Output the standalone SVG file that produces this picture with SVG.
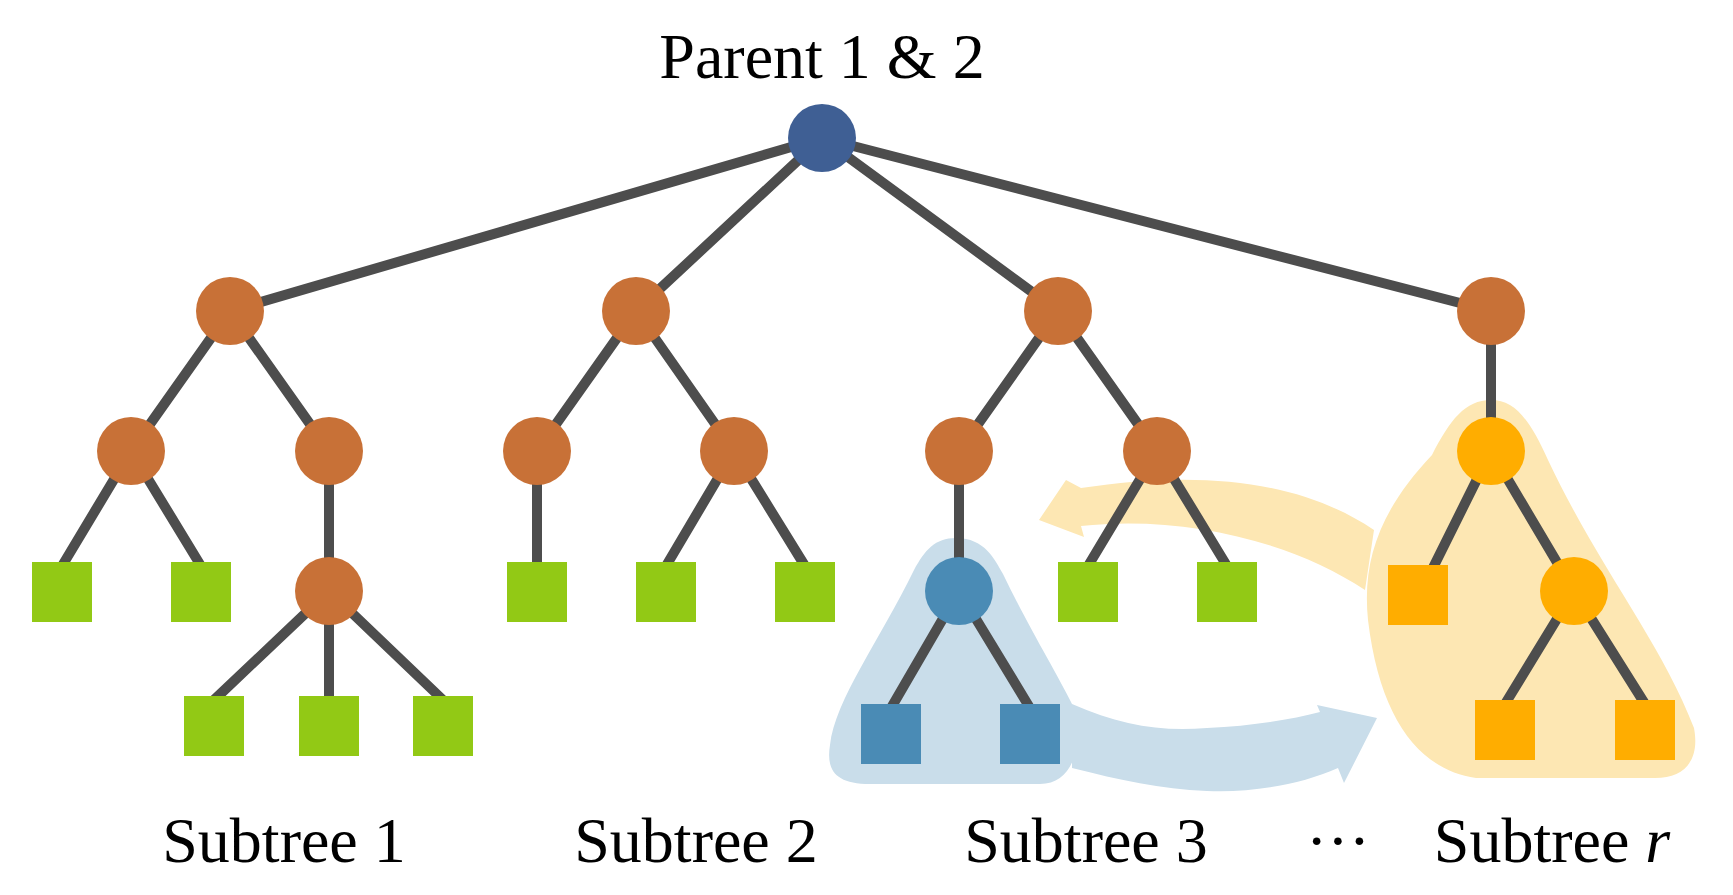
<svg xmlns="http://www.w3.org/2000/svg" width="1733" height="895" viewBox="0 0 1733 895">
<style>
.e{stroke:#4d4d4d;stroke-width:10;fill:none}
.br{fill:#C87137}.gr{fill:#92C915}.bl{fill:#4A8BB5}.or{fill:#FFAD00}
text{font-family:"Liberation Serif",serif;font-size:64px;fill:#000;text-anchor:middle}
</style>
<rect width="1733" height="895" fill="#fff"/>
<g id="hulls">
<path d="M956 538 C985 538 995 560 1003 574 C1030 630 1055 670 1072 704 C1085 740 1075 784 1040 784 L870 784 C835 784 826 770 830 745 C835 700 880 640 914 570 C925 550 935 538 956 538 Z" fill="#C9DDEA"/>
<path d="M1491 400 C1515 400 1530 420 1548 460 C1600 570 1660 640 1694 728 C1700 760 1685 778 1655 778 L1476 778 C1420 770 1380 720 1368 620 C1362 560 1380 510 1432 455 C1450 420 1465 400 1491 400 Z" fill="#FDE7B3"/>
</g>
<g id="arrows">
<path d="M1072 704 C1120 725 1160 732 1207 728 C1250 726 1290 720 1320 712 L1317 705 L1377 718 L1344 783 L1338 768 C1300 785 1250 793 1207 791 C1160 789 1120 780 1072 768 Z" fill="#C9DDEA"/>
<path d="M1374 530 C1300 480 1200 470 1081 488 L1066 480 L1039 520 L1084 537 L1081 526 C1180 515 1290 540 1365 590 Z" fill="#FDE7B3"/>
</g>
<g id="connectors" class="e">
<path d="M822 138L230 311M822 138L636 311M822 138L1058 311M822 138L1491 311"/>
<path d="M230 311L131 451M230 311L329 451M636 311L537 451M636 311L734 451M1058 311L959 451M1058 311L1157 451M1491 311L1491 451"/>
<path d="M131 451L62 566M131 451L201 566M329 451L329 591M537 451L537 566M734 451L666 566M734 451L805 566M959 451L959 591M1157 451L1088 566M1157 451L1227 566"/>
<path d="M329 591L214 700M329 591L329 700M329 591L443 700M959 591L891 708M959 591L1030 708M1491 451L1418 598M1491 451L1574 591M1574 591L1505 704M1574 591L1645 704"/>
</g>
<g id="root"><circle cx="822" cy="138" r="34" fill="#3F5F94"/></g>
<g id="l1"><circle class="br" cx="230" cy="311" r="34"/><circle class="br" cx="636" cy="311" r="34"/><circle class="br" cx="1058" cy="311" r="34"/><circle class="br" cx="1491" cy="311" r="34"/></g>
<g id="l2"><circle class="br" cx="131" cy="451" r="34"/><circle class="br" cx="329" cy="451" r="34"/><circle class="br" cx="537" cy="451" r="34"/><circle class="br" cx="734" cy="451" r="34"/><circle class="br" cx="959" cy="451" r="34"/><circle class="br" cx="1157" cy="451" r="34"/><circle class="or" cx="1491" cy="451" r="34"/></g>
<g id="l3">
<rect class="gr" x="32" y="562" width="60" height="60"/><rect class="gr" x="171" y="562" width="60" height="60"/>
<circle class="br" cx="329" cy="591" r="34"/>
<rect class="gr" x="507" y="562" width="60" height="60"/><rect class="gr" x="636" y="562" width="60" height="60"/><rect class="gr" x="775" y="562" width="60" height="60"/>
<circle class="bl" cx="959" cy="591" r="34"/>
<rect class="gr" x="1058" y="562" width="60" height="60"/><rect class="gr" x="1197" y="562" width="60" height="60"/>
<rect class="or" x="1388" y="565" width="60" height="60"/>
<circle class="or" cx="1574" cy="591" r="34"/>
</g>
<g id="l4">
<rect class="gr" x="184" y="696" width="60" height="60"/><rect class="gr" x="299" y="696" width="60" height="60"/><rect class="gr" x="413" y="696" width="60" height="60"/>
<rect class="bl" x="861" y="704" width="60" height="60"/><rect class="bl" x="1000" y="704" width="60" height="60"/>
<rect class="or" x="1475" y="700" width="60" height="60"/><rect class="or" x="1615" y="700" width="60" height="60"/>
</g>
<g id="labels">
<text x="822" y="78">Parent 1 &amp; 2</text>
<text x="284" y="862">Subtree 1</text>
<text x="696" y="862">Subtree 2</text>
<text x="1086" y="862">Subtree 3</text>
<text x="1338" y="862" font-size="52">···</text>
<text x="1552" y="862">Subtree <tspan font-style="italic">r</tspan></text>
</g>
</svg>
